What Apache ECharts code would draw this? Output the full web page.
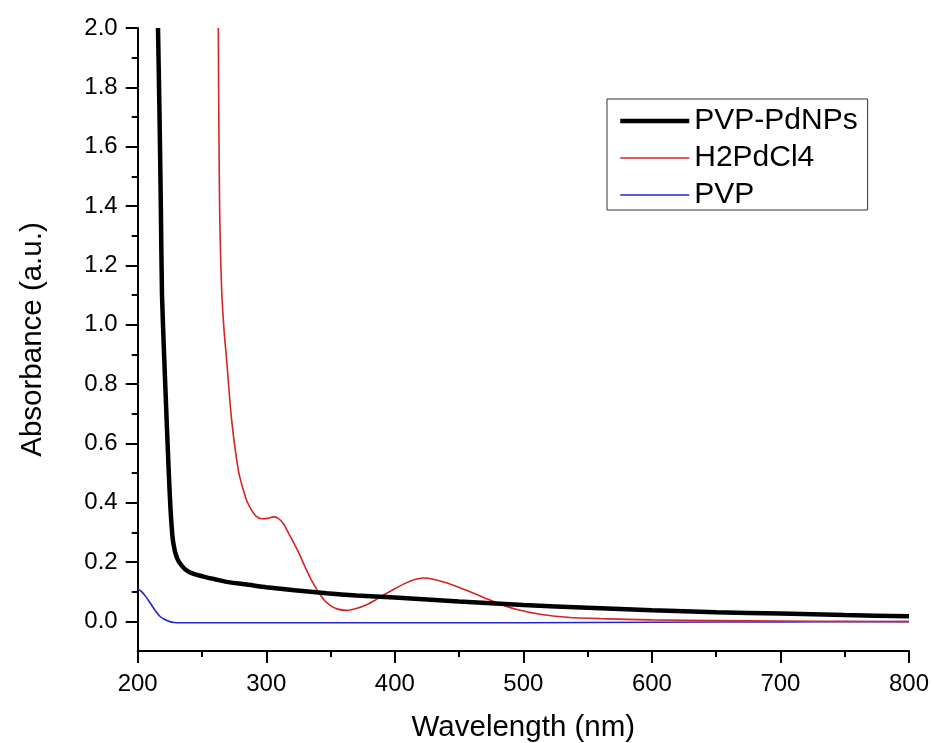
<!DOCTYPE html>
<html>
<head>
<meta charset="utf-8">
<script src="https://cdn.jsdelivr.net/npm/echarts@6/dist/echarts.min.js"></script>
<style>
html,body{margin:0;padding:0;background:#fff;}
#chart{width:932px;height:743px;}
</style>
</head>
<body>
<div id="chart"></div>
<script>
// ---- data ----
const seriesNames = ['PVP-PdNPs', 'H2PdCl4', 'PVP'];

const pdnpWl  = [215.8, 217, 218, 218.9, 220.7, 222.5, 224.2, 225.5, 227.2, 229, 231, 233, 237, 243, 252, 260, 269, 285, 300, 322, 347, 370, 400, 450, 500, 550, 600, 650, 700, 750, 800];
const pdnpAbs = [2.0, 1.7, 1.4, 1.1, 0.88, 0.68, 0.5, 0.38, 0.28, 0.235, 0.21, 0.195, 0.175, 0.161, 0.15, 0.142, 0.133, 0.124, 0.115, 0.105, 0.095, 0.087, 0.080, 0.067, 0.055, 0.046, 0.037, 0.031, 0.026, 0.021, 0.017];

const h2Wl  = [262.7, 263.1, 263.7, 264.4, 265.5, 267.2, 269.2, 273.1, 278.3, 282.2, 285, 288.7, 292, 296.5, 301, 305.5, 309, 313.3, 317, 321, 326, 330, 335, 340.5, 345, 350, 355, 362.6, 370, 378, 385, 391, 400, 408, 415, 422.2, 430, 440, 450, 460, 470, 482, 495, 513, 534, 560, 600, 650, 700, 750, 800];
const h2Abs = [2.0, 1.7, 1.4, 1.25, 1.1, 0.98, 0.88, 0.678, 0.509, 0.442, 0.405, 0.374, 0.355, 0.346, 0.347, 0.352, 0.348, 0.33, 0.3, 0.268, 0.225, 0.185, 0.14, 0.1, 0.072, 0.053, 0.042, 0.037, 0.043, 0.056, 0.072, 0.088, 0.11, 0.128, 0.14, 0.146, 0.142, 0.13, 0.114, 0.097, 0.079, 0.058, 0.04, 0.024, 0.014, 0.009, 0.005, 0.003, 0.001, 0, -0.001];

const pvpWl  = [200, 203, 206, 210, 213.5, 217, 221, 225, 228, 235, 300, 400, 500, 600, 700, 800];
const pvpAbs = [0.11, 0.1, 0.085, 0.06, 0.037, 0.018, 0.006, -0.001, -0.004, -0.005, -0.005, -0.005, -0.005, -0.003, -0.002, -0.001];

const yMajorTicks = [0, 0.2, 0.4, 0.6, 0.8, 1.0, 1.2, 1.4, 1.6, 1.8, 2.0];
const yMinorTicks = [0.1, 0.3, 0.5, 0.7, 0.9, 1.1, 1.3, 1.5, 1.7, 1.9];
const xTicks = [200, 300, 400, 500, 600, 700, 800];

const lineColors = ['#000000', '#d42424', '#2424c8'];
const lineWidths = [4.5, 1.6, 1.6];

function zip(a, b) { return a.map((v, i) => [v, b[i]]); }

const FONT = '"Liberation Sans", Arial, sans-serif';
const chart = echarts.init(document.getElementById('chart'), null, {renderer: 'canvas'});

chart.setOption({
  backgroundColor: '#ffffff',
  animation: false,
  grid: {left: 137.7, right: 23, top: 28, bottom: 92, containLabel: false, outerBoundsMode: 'none'},
  legend: {
    orient: 'vertical',
    left: 607, top: 99,
    padding: [7, 10, 0, 11],
    itemWidth: 69, itemHeight: 14, itemGap: 7,
    borderColor: '#333', borderWidth: 1,
    itemStyle: {opacity: 0},
    textStyle: {fontFamily: FONT, fontSize: 30, color: '#000'},
    data: seriesNames.map((n, i) => ({name: n, lineStyle: {width: lineWidths[i], color: lineColors[i]}}))
  },
  xAxis: {
    type: 'value', min: 200, max: 800, interval: 100,
    name: 'Wavelength (nm)', nameLocation: 'middle', nameGap: 62,
    nameTextStyle: {fontFamily: FONT, fontSize: 29.5, color: '#000'},
    axisLine: {onZero: false, lineStyle: {color: '#000', width: 2}},
    axisTick: {show: true, length: 12, lineStyle: {color: '#000', width: 2}},
    minorTick: {show: true, splitNumber: 2, length: 6, lineStyle: {color: '#000', width: 2}},
    axisLabel: {fontFamily: FONT, fontSize: 24, color: '#000', margin: 21,
      customValues: xTicks},
    splitLine: {show: false}
  },
  yAxis: [{
    type: 'value', min: -0.1, max: 2.0, interval: 0.1,
    name: 'Absorbance (a.u.)', nameLocation: 'middle', nameGap: 90,
    nameTextStyle: {fontFamily: FONT, fontSize: 29.5, color: '#000'},
    axisLine: {onZero: false, lineStyle: {color: '#000', width: 2}},
    axisTick: {show: true, length: 12, customValues: yMajorTicks, lineStyle: {color: '#000', width: 2}},
    axisLabel: {fontFamily: FONT, fontSize: 24, color: '#000', margin: 20,
      customValues: yMajorTicks, formatter: v => v.toFixed(1)},
    splitLine: {show: false}
  }, {
    type: 'value', min: -0.1, max: 2.0, interval: 0.1, position: 'left',
    axisLine: {show: false, onZero: false},
    axisTick: {show: true, length: 6, customValues: yMinorTicks, lineStyle: {color: '#000', width: 2}},
    axisLabel: {show: false},
    splitLine: {show: false}
  }],
  series: [
    {name: seriesNames[0], type: 'line', data: zip(pdnpWl, pdnpAbs), showSymbol: false, symbol: 'none',
     smooth: 0.2, lineStyle: {color: lineColors[0], width: lineWidths[0]}, itemStyle: {color: lineColors[0]}, z: 3},
    {name: seriesNames[1], type: 'line', data: zip(h2Wl, h2Abs), showSymbol: false, symbol: 'none',
     smooth: 0.3, lineStyle: {color: lineColors[1], width: lineWidths[1]}, itemStyle: {color: lineColors[1]}, z: 2},
    {name: seriesNames[2], type: 'line', data: zip(pvpWl, pvpAbs), showSymbol: false, symbol: 'none',
     smooth: 0.3, lineStyle: {color: lineColors[2], width: lineWidths[2]}, itemStyle: {color: lineColors[2]}, z: 1}
  ]
});
</script>
</body>
</html>
